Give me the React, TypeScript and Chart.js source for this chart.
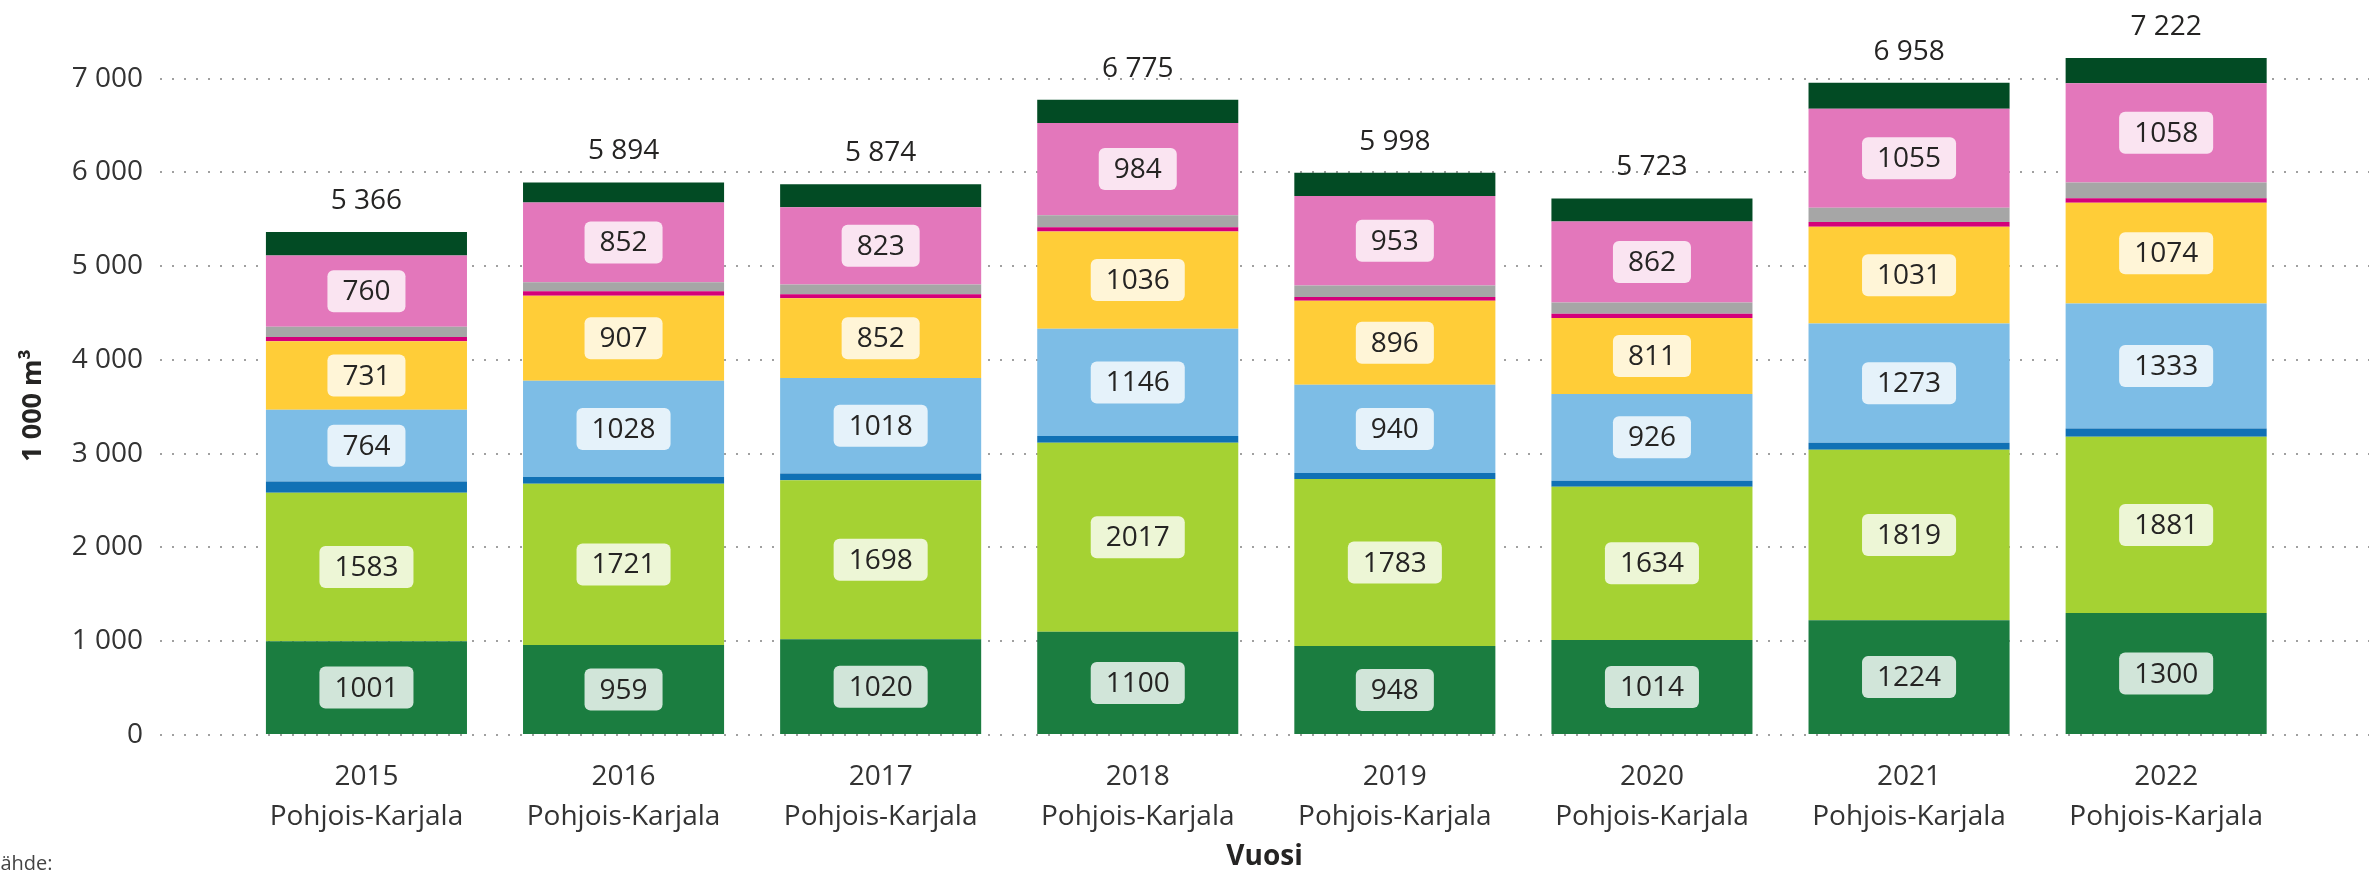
import React, { useEffect, useRef } from 'react';
import { Chart, registerables } from 'chart.js';

Chart.register(...registerables);

// ---- data ----
const years = ['2015', '2016', '2017', '2018', '2019', '2020', '2021', '2022'];
const region = 'Pohjois-Karjala';

const darkGreen = [1001, 959, 1020, 1100, 948, 1014, 1224, 1300];
const limeGreen = [1583, 1721, 1698, 2017, 1783, 1634, 1819, 1881];
const darkBlue = [120, 71, 71, 71, 64, 64, 73, 88];
const lightBlue = [764, 1028, 1018, 1146, 940, 926, 1273, 1333];
const yellow = [731, 907, 852, 1036, 896, 811, 1031, 1074];
const magenta = [45, 46, 42, 45, 40, 45, 52, 50];
const grey = [110, 96, 105, 130, 124, 120, 153, 168];
const pink = [760, 852, 823, 984, 953, 862, 1055, 1058];
const deepGreen = [252, 214, 245, 246, 250, 247, 278, 270];

const yTickValues = [0, 1000, 2000, 3000, 4000, 5000, 6000, 7000];
const yTitle = '1 000 m³';
const xTitle = 'Vuosi';
const sourceText = 'Lähde:';

const FONT = "'Open Sans', 'Noto Sans', sans-serif";

const fmt = (v: number) => String(Math.round(v)).replace(/\B(?=(\d{3})+(?!\d))/g, ' ');

const seriesDefs = [
  { values: darkGreen, color: '#1B7D40', label: true },
  { values: limeGreen, color: '#A5D233', label: true },
  { values: darkBlue, color: '#1071B5', label: false },
  { values: lightBlue, color: '#7DBDE6', label: true },
  { values: yellow, color: '#FFCD38', label: true },
  { values: magenta, color: '#D4007A', label: false },
  { values: grey, color: '#A6A6A6', label: false },
  { values: pink, color: '#E377BB', label: true },
  { values: deepGreen, color: '#024B24', label: false },
];

const labelPlugin = {
  id: 'segLabels',
  afterDatasetsDraw(chart: any) {
    const ctx = chart.ctx;
    ctx.save();
    ctx.font = `28px ${FONT}`;
    ctx.textAlign = 'center';
    ctx.textBaseline = 'middle';
    chart.data.datasets.forEach((ds: any, di: number) => {
      if (!ds.showLabel) return;
      const meta = chart.getDatasetMeta(di);
      meta.data.forEach((el: any, i: number) => {
        const v = ds.data[i].y;
        const p = el.getProps(['x', 'y', 'base'], true);
        const cy = (p.y + p.base) / 2;
        const text = String(v);
        const w = ctx.measureText(text).width + 30;
        const h = 42;
        ctx.fillStyle = 'rgba(255,255,255,0.8)';
        ctx.beginPath();
        ctx.roundRect(p.x - w / 2, cy - h / 2, w, h, 6);
        ctx.fill();
        ctx.fillStyle = '#252423';
        ctx.fillText(text, p.x, cy + 1);
      });
    });
    const n = chart.data.datasets.length;
    const topMeta = chart.getDatasetMeta(n - 1);
    ctx.fillStyle = '#252423';
    topMeta.data.forEach((el: any, i: number) => {
      const total = chart.data.datasets.reduce((s: number, ds: any) => s + ds.data[i].y, 0);
      const p = el.getProps(['x', 'y'], true);
      ctx.fillText(fmt(total), p.x, p.y - 31);
    });
    ctx.restore();
  },
  afterDraw(chart: any) {
    const ctx = chart.ctx;
    ctx.save();
    ctx.font = `20px ${FONT}`;
    ctx.fillStyle = '#444444';
    ctx.textAlign = 'left';
    ctx.textBaseline = 'middle';
    ctx.fillText(sourceText, -10, 864);
    ctx.restore();
  },
};

export default function App() {
  const ref = useRef<HTMLCanvasElement | null>(null);

  useEffect(() => {
    if (!ref.current) return;
    const datasets = seriesDefs.map((s) => ({
      data: s.values.map((v, i) => ({ x: i, y: v })),
      backgroundColor: s.color,
      borderWidth: 0,
      clip: false,
      showLabel: s.label,
    }));
    const chart = new Chart(ref.current, {
      type: 'bar',
      data: { datasets } as any,
      plugins: [labelPlugin as any],
      options: {
        responsive: false,
        animation: false,
        devicePixelRatio: 1,
        layout: { padding: { top: 76 } },
        plugins: { legend: { display: false }, tooltip: { enabled: false } },
        datasets: { bar: { categoryPercentage: 1, barPercentage: 0.782 } },
        scales: {
          x: {
            type: 'linear',
            stacked: true,
            offset: false,
            min: -0.803,
            max: 7.789,
            grid: { display: false, drawTicks: false, offset: false },
            border: { display: false },
            afterBuildTicks: (s: any) => {
              s.ticks = years.map((_, i) => ({ value: i }));
            },
            afterFit: (s: any) => {
              s.height = 135;
            },
            ticks: {
              padding: 22,
              color: '#333333',
              autoSkip: false,
              maxRotation: 0,
              minRotation: 0,
              font: { family: FONT, size: 28, lineHeight: 40 / 28 },
              callback: (v: any) => {
                const i = Math.round(Number(v));
                return [years[i], region];
              },
            },
            title: {
              display: true,
              text: xTitle,
              color: '#252423',
              font: { family: FONT, size: 28, weight: 'bold', lineHeight: 1.2 },
              padding: { top: 0, bottom: -4 },
            },
          },
          y: {
            stacked: true,
            min: 0,
            max: 7029,
            afterBuildTicks: (s: any) => {
              s.ticks = yTickValues.map((v) => ({ value: v }));
            },
            afterFit: (s: any) => {
              s.width = 160;
            },
            grid: { color: '#a0a0a0', lineWidth: 2, drawTicks: false },
            border: { display: false, dash: [2, 10] },
            ticks: {
              padding: 17,
              color: '#333333',
              font: { family: FONT, size: 28 },
              callback: (v: any) => fmt(Number(v)),
            },
            title: {
              display: true,
              text: yTitle,
              color: '#252423',
              font: { family: FONT, size: 27, weight: 'bold', lineHeight: 1.2 },
              padding: { top: 17, bottom: 0 },
            },
          },
        },
      } as any,
    });
    return () => chart.destroy();
  }, []);

  return (
    <div style={{ position: 'absolute', left: 0, top: 0, width: '2369px', height: '870px', background: '#ffffff' }}>
      <canvas ref={ref} width={2369} height={870} style={{ display: 'block' }} />
    </div>
  );
}
